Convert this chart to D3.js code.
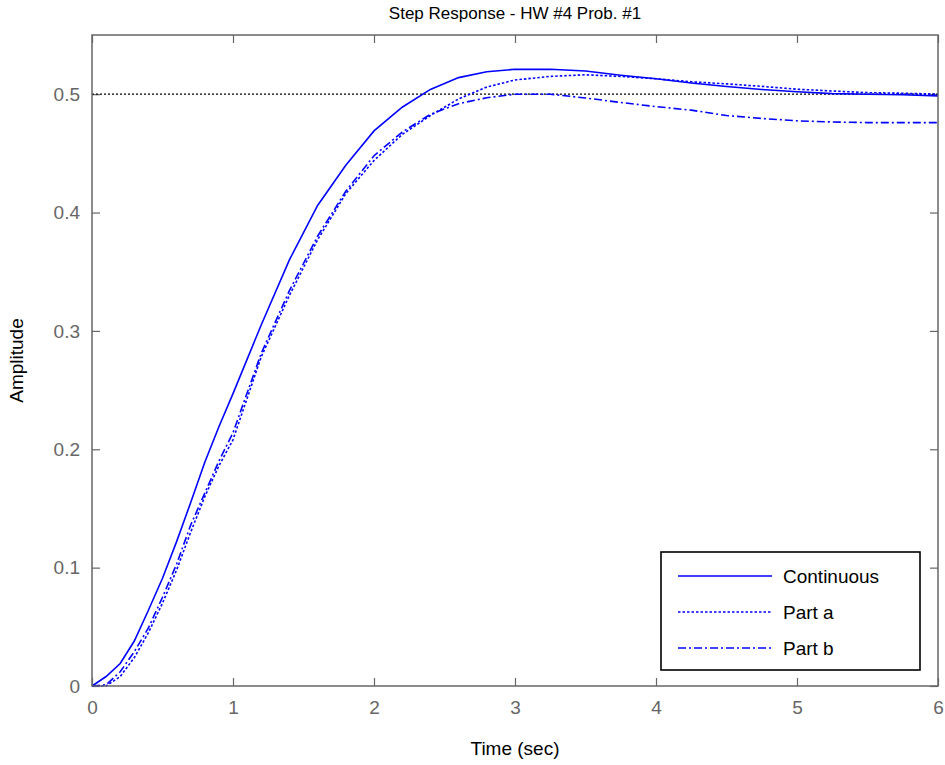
<!DOCTYPE html>
<html>
<head>
<meta charset="utf-8">
<script src="https://cdn.jsdelivr.net/npm/d3@7"></script>
<style>
  body { margin: 0; background: #fff; }
  svg text { font-family: "Liberation Sans", Arial, Helvetica, sans-serif; }
</style>
</head>
<body>
<div id="chart"></div>
<script>
// time samples (sec)
const time = [0, 0.1, 0.2, 0.3, 0.4, 0.5, 0.6, 0.7, 0.8, 0.9, 1.0, 1.2, 1.4, 1.6, 1.8, 2.0,
  2.2, 2.4, 2.6, 2.8, 3.0, 3.25, 3.5, 3.75, 4.0, 4.25, 4.5, 4.75, 5.0, 5.25, 5.5, 5.75, 6.0];

const continuous = [0, 0.008, 0.019, 0.038, 0.064, 0.091, 0.122, 0.155, 0.189, 0.219, 0.247,
  0.305, 0.360, 0.406, 0.440, 0.469, 0.489, 0.504, 0.514, 0.519, 0.521, 0.521, 0.5196, 0.516,
  0.513, 0.5095, 0.5065, 0.504, 0.502, 0.5005, 0.500, 0.4995, 0.4986];

const partA = [0, 0, 0.008, 0.024, 0.045, 0.070, 0.098, 0.130, 0.160, 0.186, 0.208,
  0.278, 0.330, 0.377, 0.416, 0.444, 0.466, 0.482, 0.496, 0.506, 0.512, 0.515, 0.5164, 0.515,
  0.513, 0.5105, 0.5087, 0.5066, 0.5042, 0.5027, 0.5013, 0.5008, 0.500];

const partB = [0, 0.001, 0.012, 0.029, 0.049, 0.075, 0.103, 0.136, 0.163, 0.190, 0.214,
  0.281, 0.334, 0.380, 0.418, 0.448, 0.468, 0.483, 0.492, 0.497, 0.500, 0.500, 0.4968, 0.493,
  0.4895, 0.4865, 0.482, 0.4795, 0.4775, 0.4765, 0.476, 0.476, 0.476];

const xTicks = [0, 1, 2, 3, 4, 5, 6];
const yTicks = [0, 0.1, 0.2, 0.3, 0.4, 0.5];
const finalValue = 0.5;

const width = 945, height = 765;
const margin = { top: 35, right: 7, bottom: 79, left: 92 };
const innerWidth = width - margin.left - margin.right;
const innerHeight = height - margin.top - margin.bottom;

const svg = d3.select('#chart').append('svg')
  .attr('width', width)
  .attr('height', height);

const g = svg.append('g')
  .attr('transform', `translate(${margin.left},${margin.top})`);

const x = d3.scaleLinear().domain([0, 6]).range([0, innerWidth]);
const y = d3.scaleLinear().domain([0, 0.55]).range([innerHeight, 0]);

const axisColor = '#666666';
const tickLen = 8;

// axes with inward ticks on all four sides
const styleAxis = sel => {
  sel.select('.domain').remove();
  sel.selectAll('.tick line').attr('stroke', axisColor).attr('stroke-width', 1.2);
  sel.selectAll('.tick text')
    .attr('fill', axisColor)
    .style('font-size', '19px');
};
const noLabels = sel => {
  sel.select('.domain').remove();
  sel.selectAll('.tick text').remove();
  sel.selectAll('.tick line').attr('stroke', axisColor).attr('stroke-width', 1.2);
};

g.append('g')
  .attr('transform', `translate(0,${innerHeight})`)
  .call(d3.axisBottom(x).tickValues(xTicks).tickFormat(d3.format('d'))
    .tickSizeInner(-tickLen).tickPadding(tickLen + 7))
  .call(styleAxis);

g.append('g')
  .call(d3.axisTop(x).tickValues(xTicks).tickSizeInner(-tickLen))
  .call(noLabels);

g.append('g')
  .call(d3.axisLeft(y).tickValues(yTicks).tickFormat(d => d === 0 ? '0' : d3.format('.1f')(d))
    .tickSizeInner(-tickLen).tickPadding(tickLen + 4))
  .call(styleAxis);

g.append('g')
  .attr('transform', `translate(${innerWidth},0)`)
  .call(d3.axisRight(y).tickValues(yTicks).tickSizeInner(-tickLen))
  .call(noLabels);

// steady-state reference line
g.append('line')
  .attr('x1', 0).attr('x2', innerWidth)
  .attr('y1', y(finalValue)).attr('y2', y(finalValue))
  .attr('stroke', '#000')
  .attr('stroke-width', 1.3)
  .attr('stroke-dasharray', '2,2');

const series = [
  { name: 'Continuous', values: continuous, dash: null },
  { name: 'Part a', values: partA, dash: '2.5,2' },
  { name: 'Part b', values: partB, dash: '8,3,2,3' }
];

const line = d3.line()
  .x((d, i) => x(time[i]))
  .y(d => y(d));

series.forEach(s => {
  g.append('path')
    .datum(s.values)
    .attr('fill', 'none')
    .attr('stroke', '#0000ff')
    .attr('stroke-width', 1.6)
    .attr('stroke-dasharray', s.dash)
    .attr('d', line);
});

// plot box
g.append('rect')
  .attr('width', innerWidth)
  .attr('height', innerHeight)
  .attr('fill', 'none')
  .attr('stroke', axisColor)
  .attr('stroke-width', 1.5);

// title and labels
svg.append('text')
  .attr('x', margin.left + innerWidth / 2)
  .attr('y', 19)
  .attr('text-anchor', 'middle')
  .style('font-size', '17px')
  .text('Step Response - HW #4 Prob. #1');

svg.append('text')
  .attr('x', margin.left + innerWidth / 2)
  .attr('y', 755)
  .attr('text-anchor', 'middle')
  .style('font-size', '19px')
  .text('Time (sec)');

svg.append('text')
  .attr('transform', `translate(23,${margin.top + innerHeight / 2}) rotate(-90)`)
  .attr('text-anchor', 'middle')
  .style('font-size', '19px')
  .text('Amplitude');

// legend
const legend = svg.append('g')
  .attr('transform', 'translate(661,552)');

legend.append('rect')
  .attr('width', 259)
  .attr('height', 118)
  .attr('fill', '#fff')
  .attr('stroke', '#000')
  .attr('stroke-width', 1.6);

series.forEach((s, i) => {
  const ly = 24 + i * 36;
  legend.append('line')
    .attr('x1', 17).attr('x2', 111)
    .attr('y1', ly).attr('y2', ly)
    .attr('stroke', '#0000ff')
    .attr('stroke-width', 1.6)
    .attr('stroke-dasharray', s.dash);
  legend.append('text')
    .attr('x', 122)
    .attr('y', ly)
    .attr('dy', '0.36em')
    .style('font-size', '19px')
    .text(s.name);
});
</script>
</body>
</html>
